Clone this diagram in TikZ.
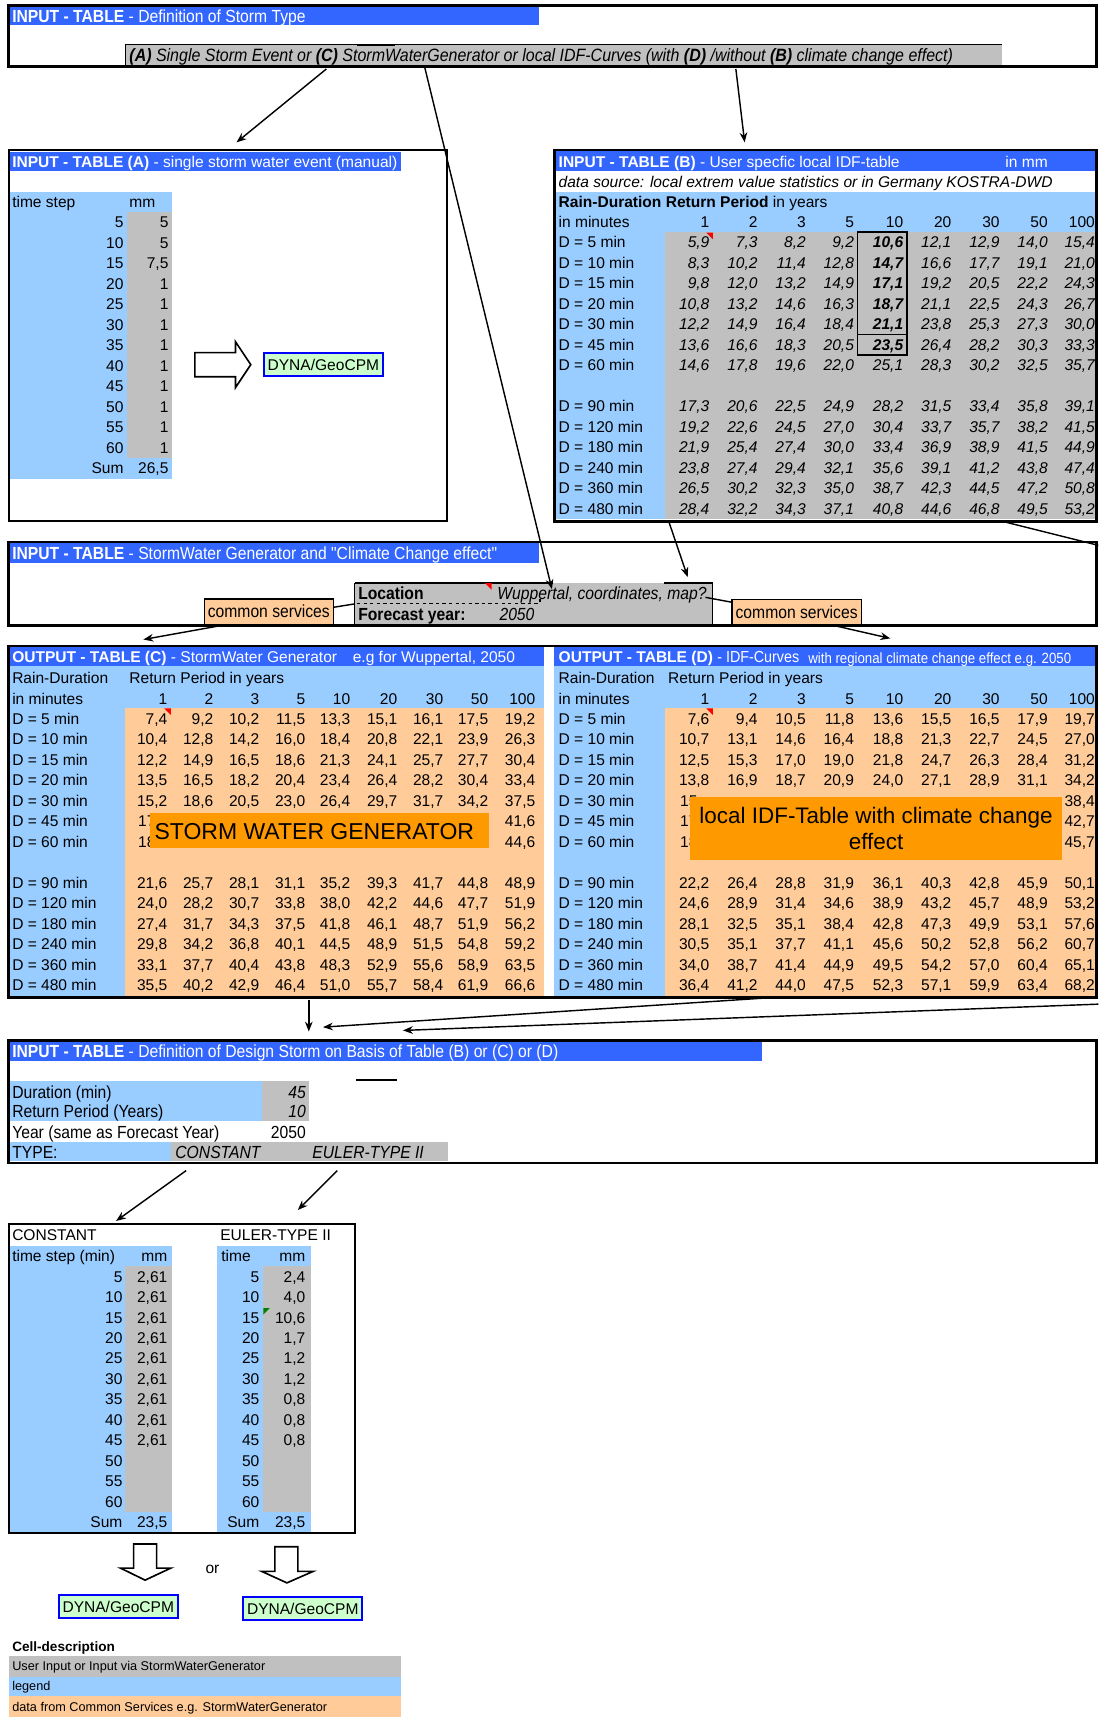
\documentclass[tikz,border=0pt]{standalone}
\usepackage{fontspec}
\setmainfont{Liberation Sans}
\newfontfamily\narrowfont[FakeStretch=0.895]{Liberation Sans}
\usetikzlibrary{arrows.meta}
\definecolor{hdrblue}{HTML}{3366FF}
\definecolor{cellblue}{HTML}{99CCFF}
\definecolor{cellgray}{HTML}{C0C0C0}
\definecolor{peach}{HTML}{FFCC99}
\definecolor{banner}{HTML}{FF9900}
\definecolor{mint}{HTML}{CCFFCC}
\definecolor{frameblue}{HTML}{0000FF}
\newcommand\tsz{\fontsize{14.2}{16}\selectfont}
\newcommand\nsz{\narrowfont\fontsize{16}{18}\selectfont}
\newcommand\lsz{\fontsize{11.6}{13}\selectfont}
\pgfkeys{/pgf/number format/.cd,fixed,precision=1,use comma,assume math mode=true}
\tikzset{
  txt/.style={inner sep=0pt,text height=10.2pt,text depth=0pt,font=\tsz},
  lt/.style={txt,anchor=west},
  rt/.style={txt,anchor=east},
  ntxt/.style={inner sep=0pt,text height=11.5pt,text depth=0pt,font=\nsz},
  nlt/.style={ntxt,anchor=west},
  nrt/.style={ntxt,anchor=east},
  lgd/.style={inner sep=0pt,text height=8.3pt,text depth=0pt,font=\lsz,anchor=west},
  boxframe/.style={draw=black,line width=2.6pt},
  thinframe/.style={draw=black,line width=1.8pt},
  arrowlink/.style={draw=black,line width=1.3pt,-{Stealth[length=9pt,width=7pt]}},
  plainlink/.style={draw=black,line width=1.3pt},
  hollow/.style={draw=black,line width=1.5pt,fill=white,line join=miter},
  dyna/.style={draw=frameblue,line width=1.8pt,fill=mint,inner xsep=3.5pt,inner ysep=0pt,
    minimum height=21pt,font=\tsz,text height=10.2pt,text depth=0pt},
  cs/.style={draw=black,line width=1.2pt,fill=peach,minimum width=118pt,minimum height=23pt,
    inner sep=0pt,font=\nsz,text height=11.5pt,text depth=0pt},
  flag/.style={fill=red},
}
% one table row: name, label x, y, label, column positions, shape, bold column, values
\newcommand\tabrow[8]{%
  \node[lt] (#1-lab) at (#2,#3) {#4};
  \foreach \v [count=\c] in {#8}{%
    \pgfmathsetmacro\xx{#5[\c-1]}%
    \ifnum\c=#7\relax\def\fw{\bfseries}\else\def\fw{}\fi
    \node[rt,font=\tsz#6\fw] (#1-\c) at (\xx,#3) {\pgfmathprintnumber[fixed zerofill]{\v}};
  }%
}
\def\colsB{{648,692,736,780,825,869,913,957,1000}}
\def\colsC{{153,195,237,279,320,363,405,446,489}}
\begin{document}
\begin{tikzpicture}[x=1pt,y=-1pt]
\useasboundingbox (0,0) rectangle (1003,1568);
\fill[white] (0,0) rectangle (1003,1568);

%% ---------- storm type definition
\fill[hdrblue] (8,5) rectangle (492,23);
\node[nlt,text=white] (hdr1) at (11,14.5) {\textbf{INPUT - TABLE} - Definition of Storm Type};
\fill[cellgray] (115,41) rectangle (915,59.5);
\draw[line width=0.8pt] (115,59.5) -- (115,41) -- (915,41);
\draw[line width=2.2pt] (326,41) -- (361,41);
\node[nlt,font=\narrowfont\fontsize{16.3}{18}\selectfont\itshape] (stormtype) at (118,50) {\textbf{(A)} Single Storm Event or \textbf{(C)} StormWaterGenerator or local IDF-Curves (with \textbf{(D)} /without \textbf{(B)} climate change effect)};
\draw[boxframe] (8,5) rectangle (1001,61);

%% ---------- table A
\fill[cellblue] (8,175) rectangle (157,437);
\fill[cellgray] (116,193.6) rectangle (157,418);
\fill[hdrblue] (8,139) rectangle (366,156);
\node[lt,text=white] (hdrA) at (11,147.5) {\textbf{INPUT - TABLE (A)} - single storm water event (manual)};
\node[lt] (tsA) at (11,184.3) {time step};
\node[lt] (mmA) at (118,184.3) {mm};
\foreach \t/\v [count=\i from 0] in {5/5,10/5,15/7.5,20/1,25/1,30/1,35/1,40/1,45/1,50/1,55/1,60/1}{
  \pgfmathsetmacro\yy{203+18.7*\i}
  \node[rt] (A-t\i) at (113,\yy) {\t};
  \node[rt] (A-v\i) at (154,\yy) {\pgfmathprintnumber{\v}};
}
\node[rt] (A-sumlab) at (113,427.4) {Sum};
\node[rt] (A-sum) at (154,427.4) {26,5};
\draw[hollow] (178,322) -- (215,322) -- (215,312) -- (229,333) -- (215,354) -- (215,344) -- (178,344) -- cycle;
\node[dyna,anchor=west] (dynaA) at (240,333) {DYNA/GeoCPM};
\draw[thinframe] (8,137) rectangle (408,476);

%% ---------- table B
\fill[cellblue] (506,175) rectangle (1001,474);
\fill[cellgray] (607,212) rectangle (1001,474);
\fill[hdrblue] (506,138) rectangle (1001,156);
\node[lt,text=white] (hdrB) at (510,147.5) {\textbf{INPUT - TABLE (B)} - User specfic local IDF-table};
\node[lt,text=white] (unitB) at (918,147.5) {in mm};
\node[lt,font=\tsz\itshape] (srcB) at (510,166) {data source: local extrem value statistics or in Germany KOSTRA-DWD};
\node[lt] (rdB) at (510,184.3) {\textbf{Rain-Duration Return Period} in years};
\node[lt] (imB) at (510,203) {in minutes};
\foreach \p [count=\c from 0] in {1,2,3,5,10,20,30,50,100}{
  \pgfmathsetmacro\xx{\colsB[\c]}
  \node[rt] (B-h\c) at (\xx,203) {\p};
}
\tabrow{B1}{510}{221.3}{D = 5 min}{\colsB}{\itshape}{5}{5.9,7.3,8.2,9.2,10.6,12.1,12.9,14.0,15.4}
\tabrow{B2}{510}{240.0}{D = 10 min}{\colsB}{\itshape}{5}{8.3,10.2,11.4,12.8,14.7,16.6,17.7,19.1,21.0}
\tabrow{B3}{510}{258.7}{D = 15 min}{\colsB}{\itshape}{5}{9.8,12.0,13.2,14.9,17.1,19.2,20.5,22.2,24.3}
\tabrow{B4}{510}{277.4}{D = 20 min}{\colsB}{\itshape}{5}{10.8,13.2,14.6,16.3,18.7,21.1,22.5,24.3,26.7}
\tabrow{B5}{510}{296.1}{D = 30 min}{\colsB}{\itshape}{5}{12.2,14.9,16.4,18.4,21.1,23.8,25.3,27.3,30.0}
\tabrow{B6}{510}{314.8}{D = 45 min}{\colsB}{\itshape}{5}{13.6,16.6,18.3,20.5,23.5,26.4,28.2,30.3,33.3}
\tabrow{B7}{510}{333.5}{D = 60 min}{\colsB}{\itshape}{0}{14.6,17.8,19.6,22.0,25.1,28.3,30.2,32.5,35.7}
\tabrow{B8}{510}{370.9}{D = 90 min}{\colsB}{\itshape}{0}{17.3,20.6,22.5,24.9,28.2,31.5,33.4,35.8,39.1}
\tabrow{B9}{510}{389.6}{D = 120 min}{\colsB}{\itshape}{0}{19.2,22.6,24.5,27.0,30.4,33.7,35.7,38.2,41.5}
\tabrow{B10}{510}{408.3}{D = 180 min}{\colsB}{\itshape}{0}{21.9,25.4,27.4,30.0,33.4,36.9,38.9,41.5,44.9}
\tabrow{B11}{510}{427.0}{D = 240 min}{\colsB}{\itshape}{0}{23.8,27.4,29.4,32.1,35.6,39.1,41.2,43.8,47.4}
\tabrow{B12}{510}{445.7}{D = 360 min}{\colsB}{\itshape}{0}{26.5,30.2,32.3,35.0,38.7,42.3,44.5,47.2,50.8}
\tabrow{B13}{510}{464.4}{D = 480 min}{\colsB}{\itshape}{0}{28.4,32.2,34.3,37.1,40.8,44.6,46.8,49.5,53.2}
\fill[flag] (645,212.5) -- (651,212.5) -- (651,218.5) -- cycle;
\draw[line width=1.6pt] (783,212) rectangle (828,305.5);
\draw[line width=1.6pt] (783,305.5) rectangle (828,324);
\draw[boxframe] (506,137) rectangle (1001,476);

%% ---------- storm water generator input
\fill[hdrblue] (8,496) rectangle (492,514);
\node[nlt,text=white] (hdr3) at (11,505) {\textbf{INPUT - TABLE} - StormWater Generator and "Climate Change effect"};
\node[fill=cellgray,minimum width=327pt,minimum height=39pt,inner sep=0pt] (locbox) at (487.5,551.5) {};
\draw[line width=0.8pt] (324,571) -- (324,532) (651,532) -- (651,571);
\draw[line width=2pt] (324,532.5) -- (505,532.5) (606,532.5) -- (651,532.5);
\node[nlt,font=\nsz\bfseries] (loc) at (327,542) {Location};
\node[nlt,font=\nsz\itshape] (locval) at (454,542) {Wuppertal, coordinates, map?};
\node[nlt,font=\nsz\bfseries] (fy) at (327,560.5) {Forecast year:};
\node[nlt,font=\nsz\itshape] (fyval) at (456,560.5) {2050};
\draw[dashed,line width=1.3pt] (326,551) -- (493,551) -- (493,547);
\fill[flag] (443,532.5) -- (449,532.5) -- (449,538.5) -- cycle;
\node[cs] (csL) at (245.5,558.5) {common services};
\node[cs] (csR) at (727.5,559) {common services};
\draw[plainlink] ([yshift=4pt]csL.east) -- (locbox.west);
\draw[plainlink] ([xshift=-7pt,yshift=6pt]locbox.east) -- ([yshift=-3pt]csR.north west);
\draw[boxframe] (8,495) rectangle (1001,571.5);

%% ---------- output tables C and D
\fill[cellblue] (8,608) rectangle (497,910);
\fill[peach] (114,647) rectangle (497,910);
\fill[cellblue] (506,608) rectangle (1001,910);
\fill[peach] (607,647) rectangle (1001,910);
\fill[hdrblue] (8,591) rectangle (497,608.5);
\fill[hdrblue] (506,591) rectangle (1001,608.5);
\node[lt,text=white] (hdrC) at (11,600) {\textbf{OUTPUT - TABLE (C)} - StormWater Generator};
\node[lt,text=white] (hdrC2) at (322,600) {e.g for Wuppertal, 2050};
\node[lt,text=white] (hdrD) at (510,600) {\textbf{OUTPUT - TABLE (D)} {\narrowfont\fontsize{14.6}{16}\selectfont - IDF-Curves}};
\node[anchor=west,inner sep=0pt,text height=9.9pt,text depth=0pt,text=white,font=\narrowfont\fontsize{13.5}{15}\selectfont] (hdrD2) at (738,601) {with regional climate change effect e.g. 2050};
\node[lt] (rdC) at (11,619) {Rain-Duration};
\node[lt] (rpC) at (118,619) {Return Period in years};
\node[lt] (imC) at (11,638) {in minutes};
\node[lt] (rdD) at (510,619) {Rain-Duration};
\node[lt] (rpD) at (610,619) {Return Period in years};
\node[lt] (imD) at (510,638) {in minutes};
\foreach \p [count=\c from 0] in {1,2,3,5,10,20,30,50,100}{
  \pgfmathsetmacro\xx{\colsC[\c]}
  \node[rt] (C-h\c) at (\xx,638) {\p};
  \pgfmathsetmacro\xx{\colsB[\c]}
  \node[rt] (D-h\c) at (\xx,638) {\p};
}
% table C
\tabrow{C1}{11}{656.5}{D = 5 min}{\colsC}{}{0}{7.4,9.2,10.2,11.5,13.3,15.1,16.1,17.5,19.2}
\tabrow{C2}{11}{675.2}{D = 10 min}{\colsC}{}{0}{10.4,12.8,14.2,16.0,18.4,20.8,22.1,23.9,26.3}
\tabrow{C3}{11}{693.9}{D = 15 min}{\colsC}{}{0}{12.2,14.9,16.5,18.6,21.3,24.1,25.7,27.7,30.4}
\tabrow{C4}{11}{712.6}{D = 20 min}{\colsC}{}{0}{13.5,16.5,18.2,20.4,23.4,26.4,28.2,30.4,33.4}
\tabrow{C5}{11}{731.3}{D = 30 min}{\colsC}{}{0}{15.2,18.6,20.5,23.0,26.4,29.7,31.7,34.2,37.5}
\node[lt] (C6-lab) at (11,750) {D = 45 min};
\node[lt] (C6-1) at (126,750) {17};
\node[rt] (C6-9) at (489,750) {41,6};
\node[lt] (C7-lab) at (11,768.7) {D = 60 min};
\node[lt] (C7-1) at (126,768.7) {18};
\node[rt] (C7-9) at (489,768.7) {44,6};
\tabrow{C8}{11}{806.1}{D = 90 min}{\colsC}{}{0}{21.6,25.7,28.1,31.1,35.2,39.3,41.7,44.8,48.9}
\tabrow{C9}{11}{824.8}{D = 120 min}{\colsC}{}{0}{24.0,28.2,30.7,33.8,38.0,42.2,44.6,47.7,51.9}
\tabrow{C10}{11}{843.5}{D = 180 min}{\colsC}{}{0}{27.4,31.7,34.3,37.5,41.8,46.1,48.7,51.9,56.2}
\tabrow{C11}{11}{862.2}{D = 240 min}{\colsC}{}{0}{29.8,34.2,36.8,40.1,44.5,48.9,51.5,54.8,59.2}
\tabrow{C12}{11}{880.9}{D = 360 min}{\colsC}{}{0}{33.1,37.7,40.4,43.8,48.3,52.9,55.6,58.9,63.5}
\tabrow{C13}{11}{899.6}{D = 480 min}{\colsC}{}{0}{35.5,40.2,42.9,46.4,51.0,55.7,58.4,61.9,66.6}
\fill[flag] (150,647) -- (156,647) -- (156,653) -- cycle;
% table D
\tabrow{D1}{510}{656.5}{D = 5 min}{\colsB}{}{0}{7.6,9.4,10.5,11.8,13.6,15.5,16.5,17.9,19.7}
\tabrow{D2}{510}{675.2}{D = 10 min}{\colsB}{}{0}{10.7,13.1,14.6,16.4,18.8,21.3,22.7,24.5,27.0}
\tabrow{D3}{510}{693.9}{D = 15 min}{\colsB}{}{0}{12.5,15.3,17.0,19.0,21.8,24.7,26.3,28.4,31.2}
\tabrow{D4}{510}{712.6}{D = 20 min}{\colsB}{}{0}{13.8,16.9,18.7,20.9,24.0,27.1,28.9,31.1,34.2}
\node[lt] (D5-lab) at (510,731.3) {D = 30 min};
\node[lt] (D5-1) at (621,731.3) {15};
\node[rt] (D5-9) at (1000,731.3) {38,4};
\node[lt] (D6-lab) at (510,750) {D = 45 min};
\node[lt] (D6-1) at (621,750) {17};
\node[rt] (D6-9) at (1000,750) {42,7};
\node[lt] (D7-lab) at (510,768.7) {D = 60 min};
\node[lt] (D7-1) at (621,768.7) {18};
\node[rt] (D7-9) at (1000,768.7) {45,7};
\tabrow{D8}{510}{806.1}{D = 90 min}{\colsB}{}{0}{22.2,26.4,28.8,31.9,36.1,40.3,42.8,45.9,50.1}
\tabrow{D9}{510}{824.8}{D = 120 min}{\colsB}{}{0}{24.6,28.9,31.4,34.6,38.9,43.2,45.7,48.9,53.2}
\tabrow{D10}{510}{843.5}{D = 180 min}{\colsB}{}{0}{28.1,32.5,35.1,38.4,42.8,47.3,49.9,53.1,57.6}
\tabrow{D11}{510}{862.2}{D = 240 min}{\colsB}{}{0}{30.5,35.1,37.7,41.1,45.6,50.2,52.8,56.2,60.7}
\tabrow{D12}{510}{880.9}{D = 360 min}{\colsB}{}{0}{34.0,38.7,41.4,44.9,49.5,54.2,57.0,60.4,65.1}
\tabrow{D13}{510}{899.6}{D = 480 min}{\colsB}{}{0}{36.4,41.2,44.0,47.5,52.3,57.1,59.9,63.4,68.2}
\fill[flag] (645,647) -- (651,647) -- (651,653) -- cycle;
% banners over the tables
\fill[banner] (137,742) rectangle (447,774);
\node[anchor=west,inner sep=0pt,text height=15pt,text depth=0pt,font=\fontsize{21}{24}\selectfont] (swg) at (141,759) {STORM WATER GENERATOR};
\fill[banner] (630,728) rectangle (970,785);
\node[align=center,inner sep=0pt,font=\fontsize{20.5}{23}\selectfont] (idf) at (800,756.5) {local IDF-Table with climate change\\effect};
\draw[boxframe] (8,590) rectangle (1001,911);

%% ---------- design storm definition
\fill[hdrblue] (8,951) rectangle (696,969);
\node[nlt,text=white] (hdr5) at (11,960) {\textbf{INPUT - TABLE} - Definition of Design Storm on Basis of Table (B) or (C) or (D)};
\draw[line width=2.2pt] (325,986.5) -- (363,986.5);
\fill[cellblue] (8,987) rectangle (239,1024);
\fill[cellgray] (239,987) rectangle (282,1024);
\fill[cellblue] (8,1043) rectangle (156,1060.5);
\fill[cellgray] (156,1043) rectangle (409,1060.5);
\node[nlt] (dur) at (11,997) {Duration (min)};
\node[nrt,font=\nsz\itshape] (durv) at (279.5,997) {45};
\node[nlt] (rp) at (11,1015) {Return Period (Years)};
\node[nrt,font=\nsz\itshape] (rpv) at (279.5,1015) {10};
\node[nlt] (yr) at (11,1033.5) {Year (same as Forecast Year)};
\node[nrt] (yrv) at (279.5,1033.5) {2050};
\node[nlt] (ty) at (11,1052) {TYPE:};
\node[nlt,font=\nsz\itshape] (tyc) at (160,1052) {CONSTANT};
\node[nlt,font=\nsz\itshape] (tye) at (285,1052) {EULER-TYPE II};
\draw[boxframe] (8,950) rectangle (1001,1062);

%% ---------- constant / Euler type II rainfall
\fill[cellblue] (8,1137.5) rectangle (157,1399);
\fill[cellgray] (114,1156.4) rectangle (157,1380.8);
\fill[cellblue] (198,1137.5) rectangle (284,1399);
\fill[cellgray] (240,1156.4) rectangle (284,1380.8);
\node[lt] (constT) at (11,1128) {CONSTANT};
\node[lt] (eulerT) at (201,1128) {EULER-TYPE II};
\node[lt] (tsK) at (11,1147) {time step (min)};
\node[rt] (mmK) at (153,1147) {mm};
\node[lt] (tsE) at (202,1147) {time};
\node[rt] (mmE) at (279,1147) {mm};
\foreach \t [count=\i from 0] in {5,10,15,20,25,30,35,40,45,50,55,60}{
  \pgfmathsetmacro\yy{1165.7+18.7*\i}
  \node[rt] (K-t\i) at (112,\yy) {\t};
  \node[rt] (E-t\i) at (237,\yy) {\t};
}
\foreach \i in {0,...,8}{
  \pgfmathsetmacro\yy{1165.7+18.7*\i}
  \node[rt] (K-v\i) at (153,\yy) {2,61};
}
\foreach \v [count=\i from 0] in {2.4,4.0,10.6,1.7,1.2,1.2,0.8,0.8,0.8}{
  \pgfmathsetmacro\yy{1165.7+18.7*\i}
  \node[rt] (E-v\i) at (279,\yy) {\pgfmathprintnumber[fixed zerofill]{\v}};
}
\node[rt] (K-sumlab) at (112,1390.1) {Sum};
\node[rt] (K-sum) at (153,1390.1) {23,5};
\node[rt] (E-sumlab) at (237,1390.1) {Sum};
\node[rt] (E-sum) at (279,1390.1) {23,5};
\fill[green!50!black] (240.5,1194.5) -- (246.5,1194.5) -- (240.5,1200.5) -- cycle;
\draw[thinframe] (8,1118) rectangle (324,1400);

% hand-over to the model
\draw[hollow] (122,1410) -- (143,1410) -- (143,1432) -- (156,1432) -- (132.5,1443) -- (110,1432) -- (122,1432) -- cycle;
\draw[hollow] (251,1412.5) -- (272,1412.5) -- (272,1435) -- (286,1435) -- (262,1445.5) -- (239,1435) -- (251,1435) -- cycle;
\node[txt] (or) at (194,1432) {or};
\node[dyna] (dynaK) at (108,1467) {DYNA/GeoCPM};
\node[dyna] (dynaE) at (276.5,1469) {DYNA/GeoCPM};

%% ---------- legend
\node[lgd,font=\fontsize{12.4}{14}\selectfont\bfseries,text height=8.9pt] (celldesc) at (11,1504) {Cell-description};
\fill[cellgray] (8,1512) rectangle (366,1531);
\fill[cellblue] (8,1531) rectangle (366,1549);
\fill[peach] (8,1549) rectangle (366,1568);
\node[lgd] (lg1) at (11,1521.5) {User Input or Input via StormWaterGenerator};
\node[lgd] (lg2) at (11,1540) {legend};
\node[lgd] (lg3) at (11,1558.5) {data from Common Services e.g. StormWaterGenerator};

%% ---------- connectors
\coordinate (st1) at (298,63);
\coordinate (st2) at (388,62);
\coordinate (st3) at (672,63);
\coordinate (inA) at (216,130);
\coordinate (inB) at (680,130);
\coordinate (inLoc) at (504,538);
\coordinate (bOut) at (611,477);
\coordinate (inGen) at (628,527);
\coordinate (bOut2) at (919,477);
\coordinate (edgeA) at (1003,498);
\coordinate (outC) at (131,584);
\coordinate (outD) at (813,583);
\coordinate (dsFromC) at (282,913);
\coordinate (dsFromD) at (705,911);
\coordinate (edgeB) at (1003,917);
\coordinate (inDs1) at (282,942);
\coordinate (inDs2) at (295,938);
\coordinate (inDs3) at (368,941);
\coordinate (typeC) at (170,1069);
\coordinate (typeE) at (308,1069);
\coordinate (inK) at (106,1115);
\coordinate (inE) at (272,1105);
\draw[arrowlink] (st1) -- (inA);
\draw[arrowlink] (st2) -- (inLoc);
\draw[arrowlink] (st3) -- (inB);
\draw[arrowlink] (bOut) -- (inGen);
\draw[plainlink] (bOut2) -- (edgeA);
\draw[arrowlink] ([xshift=-40pt]csL.south) -- (outC);
\draw[arrowlink] ([xshift=33.5pt]csR.south) -- (outD);
\draw[arrowlink] (dsFromC) -- (inDs1);
\draw[arrowlink] (dsFromD) -- (inDs2);
\draw[arrowlink] (edgeB) -- (inDs3);
\draw[arrowlink] (typeC) -- (inK);
\draw[arrowlink] (typeE) -- (inE);
\end{tikzpicture}
\end{document}
